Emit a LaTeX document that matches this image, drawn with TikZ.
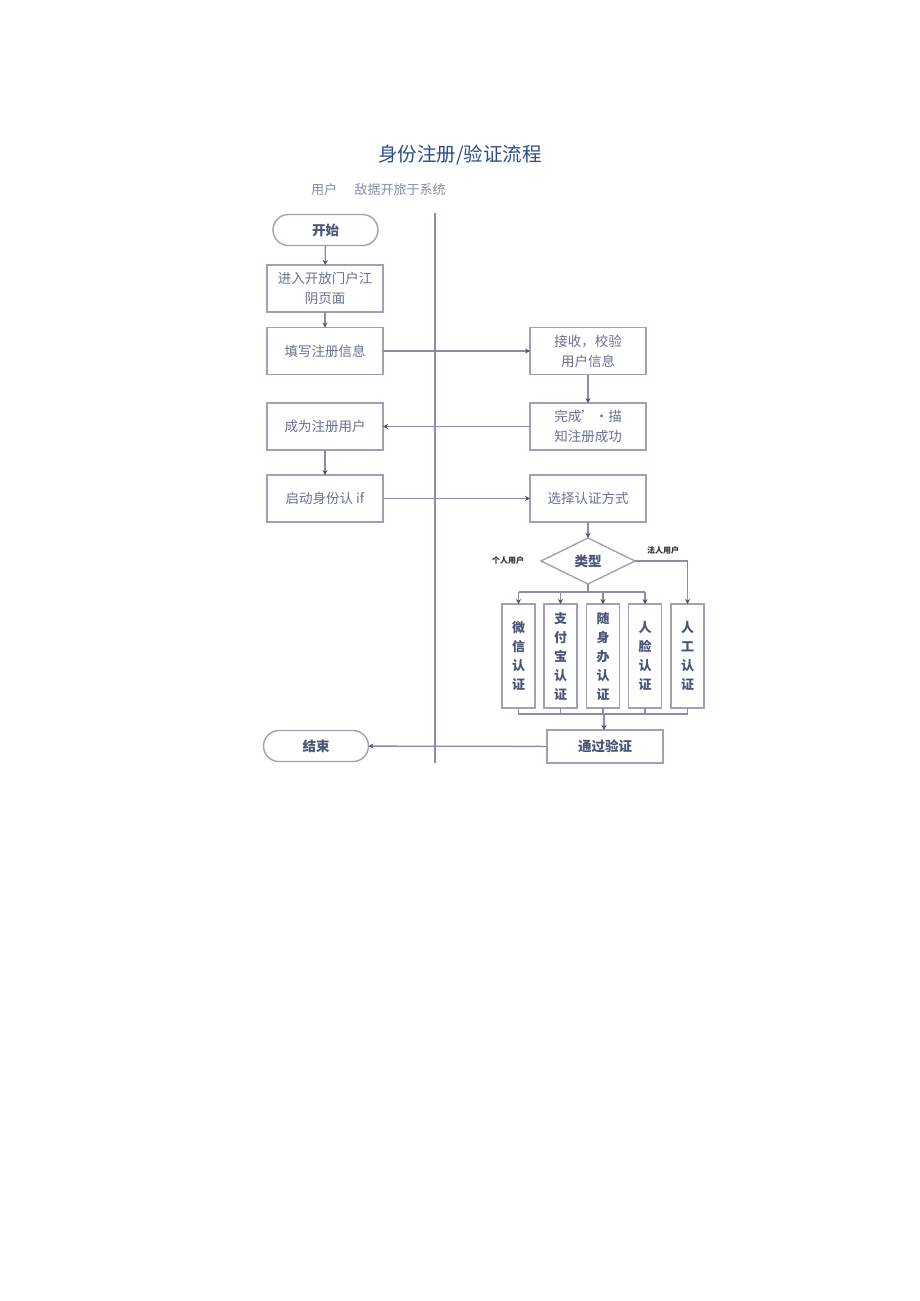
\documentclass[tikz,border=0pt]{standalone}
\usepackage{fontspec}
\setmainfont{Noto Sans CJK SC}
\usetikzlibrary{shapes.geometric,shapes.misc,arrows.meta,positioning}
\definecolor{linec}{HTML}{8C8CA8}
\definecolor{boxc}{HTML}{A0A0B8}
\definecolor{txtc}{HTML}{6A7092}
\definecolor{boldc}{HTML}{4A5478}
\definecolor{titlec}{HTML}{2E4C8C}
\definecolor{tipc}{HTML}{505070}
\begin{document}
\begin{tikzpicture}[x=1pt,y=-1pt,
  every node/.style={inner sep=0pt,outer sep=0pt},
  flowbox/.style={draw=boxc,line width=1.4pt,rectangle,minimum width=116pt,minimum height=47pt,text=txtc,font=\fontsize{13.5}{20}\selectfont,align=center},
  vbox/.style={draw=boxc,line width=1.4pt,rectangle,minimum width=33pt,minimum height=104pt,text=boldc,font=\fontsize{13}{19}\selectfont\bfseries,align=center},
  term/.style={draw=boxc,line width=1.4pt,rounded rectangle,minimum width=105pt,minimum height=31pt,text=boldc,font=\fontsize{13.5}{16}\selectfont\bfseries},
  conn/.style={draw=linec,line width=1.3pt},
  arr/.style={conn,-{Stealth[length=5pt,width=5pt,color=tipc]}},
  small/.style={font=\fontsize{8}{9}\selectfont\bfseries,text=black!80}
]
\useasboundingbox (0,0) rectangle (920,1301);
\fill[white] (0,0) rectangle (920,1301);

% title and lane headers
\node[text=titlec,font=\fontsize{19.5}{22}\selectfont] (title) at (460,155) {身份注册/验证流程};
\node[text=txtc!80,font=\fontsize{13}{15}\selectfont] (laneU) at (324,190) {用户};
\node[text=txtc!80,font=\fontsize{13}{15}\selectfont] (laneS) at (400,190) {敌据开旅于系统};

% lane separator
\coordinate (sepT) at (435,213);
\coordinate (sepB) at (435,763);
\draw[draw=linec,line width=2.2pt] (sepT) -- (sepB);

% left column
\node[term] (start) at (325.5,230) {开始};
\node[flowbox] (enter) at (325,288.5) {进入开放门户江\\阴页面};
\node[flowbox] (fill) at (325,351) {填写注册信息};
\node[flowbox] (become) at (325,426.5) {成为注册用户};
\node[flowbox] (launch) at (325,498.5) {启动身份认 if};
\node[term] (end) at (316,746) {结束};

% right column
\node[flowbox] (recv) at (588,351) {接收，校验\\用户信息};
\node[flowbox] (done) at (588,426.5) {完成’·描\\知注册成功};
\node[flowbox] (choose) at (588,498.5) {选择认证方式};
\node[diamond,draw=boxc,line width=1.4pt,minimum width=94pt,minimum height=46pt,aspect=2,text=boldc,font=\fontsize{13.5}{16}\selectfont\bfseries] (type) at (588,561) {类型};
\node[small] (lblP) at (508,560) {个人用户};
\node[small] (lblC) at (663,550) {法人用户};

\node[vbox] (wx) at (518.5,656) {微\\信\\认\\证};
\node[vbox] (zfb) at (560.5,656) {支\\付\\宝\\认\\证};
\node[vbox] (ssb) at (603,656) {随\\身\\办\\认\\证};
\node[vbox] (face) at (645,656) {人\\脸\\认\\证};
\node[vbox] (man) at (687.5,656) {人\\工\\认\\证};

\node[flowbox,minimum height=33pt,text=boldc,font=\fontsize{13.5}{16}\selectfont\bfseries] (pass) at (605,746.5) {通过验证};

% connectors
\draw[arr] (start) -- (enter);
\draw[arr] (enter) -- (fill);
\draw[arr] (become) -- (launch);
\draw[arr] (fill) -- (recv);
\draw[arr] (recv) -- (done);
\draw[arr] (done) -- (become);
\draw[arr] (launch) -- (choose);
\draw[arr] (choose) -- (type);

\coordinate (busT) at (588,592);
\draw[conn] (type.south) -- (busT);
\draw[conn] (wx.north |- busT) -- (face.north |- busT);
\draw[arr] (wx.north |- busT) -- (wx.north);
\draw[arr] (zfb.north |- busT) -- (zfb.north);
\draw[arr] (ssb.north |- busT) -- (ssb.north);
\draw[arr] (face.north |- busT) -- (face.north);
\draw[arr] (type.east) -| (man.north);

\coordinate (busB) at (604,714);
\draw[conn] (wx.south) -- (wx.south |- busB) -- (man.south |- busB) -- (man.south);
\draw[conn] (zfb.south) -- (zfb.south |- busB);
\draw[conn] (ssb.south) -- (ssb.south |- busB);
\draw[conn] (face.south) -- (face.south |- busB);
\draw[arr] (busB) -- (pass.north -| busB);
\draw[arr] (pass) -- (end);
\end{tikzpicture}
\end{document}
